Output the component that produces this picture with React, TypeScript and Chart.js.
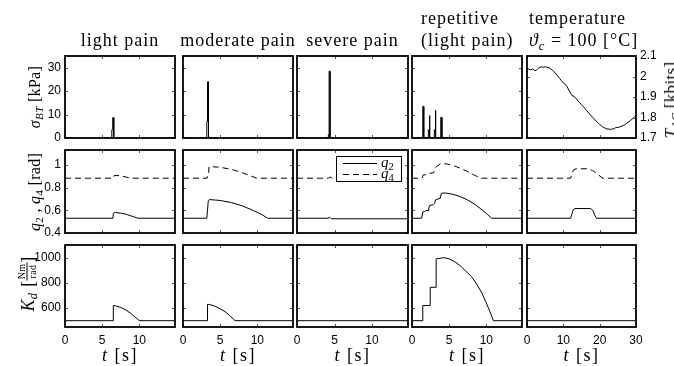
import React, { useEffect, useRef } from 'react';
import { Chart, registerables } from 'chart.js';

Chart.register(...registerables);

// ---------- tick / axis ranges ----------
const X_SHORT_MAX = 14.8;
const X_LONG_MAX = 30;
const SIGMA_RANGE = [0, 35, 10];
const TAC_RANGE = [1.7, 2.1, 0.1];
const Q_RANGE = [0.4, 1.13, 0.2];
const KD_RANGE = [450, 1100, 200];

// ---------- row 1: sigma_BT [kPa] ----------
const lightSigmaT = [0, 6.3, 6.3, 6.42, 6.42, 6.56, 6.56, 14.8];
const lightSigma = [0, 0, 3.5, 3.5, 8.7, 8.7, 0, 0];
const moderateSigmaT = [0, 3.2, 3.2, 3.3, 3.3, 3.43, 3.43, 14.8];
const moderateSigma = [0, 0, 7, 7, 24, 24, 0, 0];
const severeSigmaT = [0, 4.18, 4.18, 4.28, 4.28, 4.4, 4.4, 14.8];
const severeSigma = [0, 0, 1.5, 1.5, 28.5, 28.5, 0, 0];
const repSigmaT = [0, 1.45, 1.45, 1.58, 1.58, 2.2, 2.2, 2.3, 2.3, 2.42, 2.42, 3.0, 3.0, 3.1, 3.1, 3.22, 3.22, 3.8, 3.8, 3.9, 3.9, 4.02, 4.02, 14.8];
const repSigma = [0, 0, 13.5, 13.5, 0, 0, 3.5, 3.5, 9.6, 9.6, 0, 0, 3.5, 3.5, 11.8, 11.8, 0, 0, 3, 3, 8.8, 8.8, 0, 0];

// ---------- row 1 (right): T_AC [kbits] ----------
const tempT = [0, 0.5, 1, 1.5, 2, 2.5, 3, 3.5, 4, 4.5, 5, 5.5, 6, 6.5, 7, 7.5, 8, 8.5, 9, 9.5, 10, 10.5, 11, 11.5, 12, 12.5, 13, 13.5, 14, 14.5, 15, 15.5, 16, 16.5, 17, 17.5, 18, 18.5, 19, 19.5, 20, 20.5, 21, 21.5, 22, 22.5, 23, 23.5, 24, 24.5, 25, 25.5, 26, 26.5, 27, 27.5, 28, 28.5, 29, 29.5, 30];
const tempTac = [2.037, 2.036, 2.033, 2.037, 2.031, 2.029, 2.038, 2.045, 2.047, 2.045, 2.048, 2.045, 2.043, 2.038, 2.031, 2.022, 2.012, 2.001, 1.99, 1.979, 1.968, 1.962, 1.951, 1.934, 1.918, 1.906, 1.903, 1.893, 1.882, 1.873, 1.862, 1.853, 1.842, 1.833, 1.822, 1.812, 1.802, 1.793, 1.783, 1.775, 1.766, 1.759, 1.752, 1.748, 1.744, 1.744, 1.741, 1.745, 1.744, 1.752, 1.751, 1.754, 1.758, 1.761, 1.766, 1.773, 1.779, 1.786, 1.793, 1.801, 1.81];

// ---------- row 2: q2 (solid), q4 (dashed) [rad] ----------
const lightQ2T = [0, 6.45, 6.5, 6.6, 6.8, 7.5, 8.3, 9.0, 9.8, 14.8];
const lightQ2 = [0.53, 0.53, 0.565, 0.578, 0.58, 0.575, 0.563, 0.548, 0.53, 0.53];
const lightQ4T = [0, 6.5, 6.6, 7.4, 8.2, 8.9, 14.8];
const lightQ4 = [0.882, 0.882, 0.905, 0.905, 0.892, 0.882, 0.882];
const moderateQ2T = [0, 3.2, 3.3, 3.4, 3.6, 5, 6.5, 8, 9.5, 10.5, 11.4, 14.8];
const moderateQ2 = [0.53, 0.53, 0.6, 0.685, 0.694, 0.686, 0.668, 0.638, 0.597, 0.566, 0.53, 0.53];
const moderateQ4T = [0, 3.25, 3.3, 3.45, 3.5, 5, 6.5, 8, 9.2, 9.9, 14.8];
const moderateQ4 = [0.882, 0.882, 0.91, 0.92, 0.985, 0.978, 0.96, 0.93, 0.9, 0.882, 0.882];
const severeQ2T = [0, 4.2, 4.3, 4.45, 4.6, 14.8];
const severeQ2 = [0.53, 0.53, 0.54, 0.532, 0.525, 0.525];
const severeQ4T = [0, 4.2, 4.3, 4.5, 4.7, 14.8];
const severeQ4 = [0.882, 0.882, 0.89, 0.89, 0.882, 0.882];
const repQ2T = [0, 1.3, 1.45, 1.7, 2.0, 2.2, 2.35, 2.6, 2.9, 3.05, 3.15, 3.5, 3.8, 3.95, 4.5, 5.5, 6.5, 7.5, 8.5, 9.5, 10.2, 10.7, 14.8];
const repQ2 = [0.53, 0.53, 0.585, 0.59, 0.6, 0.595, 0.64, 0.645, 0.65, 0.66, 0.69, 0.7, 0.705, 0.75, 0.752, 0.74, 0.72, 0.69, 0.65, 0.6, 0.56, 0.53, 0.53];
const repQ4T = [0, 1.35, 1.5, 2.2, 2.4, 2.9, 3.1, 3.4, 3.9, 4.6, 5.5, 6.5, 7.5, 8.5, 9.3, 14.8];
const repQ4 = [0.882, 0.882, 0.91, 0.915, 0.925, 0.93, 0.97, 0.99, 1.01, 1.008, 0.995, 0.97, 0.94, 0.905, 0.882, 0.882];
const tempQ2T = [0, 12, 12.3, 12.7, 13.2, 17.5, 18.1, 18.6, 19.1, 30];
const tempQ2 = [0.53, 0.53, 0.56, 0.605, 0.615, 0.615, 0.6, 0.56, 0.53, 0.53];
const tempQ4T = [0, 12, 12.3, 12.8, 13.5, 16.8, 18, 19.5, 20.8, 30];
const tempQ4 = [0.882, 0.882, 0.91, 0.955, 0.965, 0.965, 0.95, 0.915, 0.882, 0.882];

// ---------- row 3: K_d [Nm/rad] ----------
const lightKdT = [0, 6.5, 6.5, 6.8, 7.5, 8.2, 8.8, 9.4, 10, 14.8];
const lightKd = [500, 500, 620, 618, 605, 585, 560, 530, 500, 500];
const moderateKdT = [0, 3.3, 3.3, 3.6, 4.3, 5, 5.7, 6.3, 7, 14.8];
const moderateKd = [500, 500, 630, 628, 615, 595, 570, 540, 500, 500];
const severeKdT = [0, 14.8];
const severeKd = [500, 500];
const repKdT = [0, 1.45, 1.45, 2.45, 2.45, 3.25, 3.25, 3.8, 4.3, 5, 5.8, 6.5, 7.2, 8, 8.7, 9.4, 10, 10.5, 10.95, 14.8];
const repKd = [500, 500, 620, 620, 765, 765, 990, 995, 1000, 990, 966, 935, 895, 850, 790, 720, 640, 570, 500, 500];
const tempKdT = [0, 30];
const tempKd = [500, 500];

// ---------- layout ----------
const COL_LEFT = [65, 183, 297, 412, 527];
const COL_W = [110, 110, 111, 110, 109];
const ROW_TOP = [56, 150, 245];
const ROW_H = [82, 83, 82];
const M = 40;

type Series = { t: number[]; v: number[]; dash?: boolean };
type Panel = {
  col: number; row: number; series: Series[];
  xmax: number; xstep: number; yr: number[];
  showX: boolean; showY: boolean; right?: boolean;
};

const sx = (col: number) => (col === 4 ? [X_LONG_MAX, 10] : [X_SHORT_MAX, 5]);

const row0: Series[][] = [
  [{ t: lightSigmaT, v: lightSigma }],
  [{ t: moderateSigmaT, v: moderateSigma }],
  [{ t: severeSigmaT, v: severeSigma }],
  [{ t: repSigmaT, v: repSigma }],
  [{ t: tempT, v: tempTac }],
];
const row1: Series[][] = [
  [{ t: lightQ2T, v: lightQ2 }, { t: lightQ4T, v: lightQ4, dash: true }],
  [{ t: moderateQ2T, v: moderateQ2 }, { t: moderateQ4T, v: moderateQ4, dash: true }],
  [{ t: severeQ2T, v: severeQ2 }, { t: severeQ4T, v: severeQ4, dash: true }],
  [{ t: repQ2T, v: repQ2 }, { t: repQ4T, v: repQ4, dash: true }],
  [{ t: tempQ2T, v: tempQ2 }, { t: tempQ4T, v: tempQ4, dash: true }],
];
const row2: Series[][] = [
  [{ t: lightKdT, v: lightKd }],
  [{ t: moderateKdT, v: moderateKd }],
  [{ t: severeKdT, v: severeKd }],
  [{ t: repKdT, v: repKd }],
  [{ t: tempKdT, v: tempKd }],
];

const PANELS: Panel[] = [];
[row0, row1, row2].forEach((rowSeries, row) => {
  rowSeries.forEach((series, col) => {
    const [xmax, xstep] = sx(col);
    const isTemp = row === 0 && col === 4;
    PANELS.push({
      col, row, series, xmax, xstep,
      yr: row === 0 ? (isTemp ? TAC_RANGE : SIGMA_RANGE) : row === 1 ? Q_RANGE : KD_RANGE,
      showX: row === 2,
      showY: col === 0 || isTemp,
      right: isTemp,
    });
  });
});

const TICK_FONT = { family: "'Liberation Sans', Arial, Helvetica, sans-serif", size: 12 };
const SERIF = "'Liberation Serif', 'Times New Roman', serif";

const fmt = (v: any) => String(parseFloat(Number(v).toFixed(3)));

const framePlugin = {
  id: 'frameTicks',
  afterDatasetsDraw(chart: any) {
    const { ctx, chartArea: a, scales } = chart;
    const xs = scales.x;
    const ys = scales.y;
    const tl = 3;
    ctx.save();
    ctx.strokeStyle = '#555';
    ctx.lineWidth = 1;
    ctx.beginPath();
    xs.ticks.forEach((tk: any) => {
      const px = Math.round(xs.getPixelForValue(tk.value)) + 0.5;
      ctx.moveTo(px, a.bottom);
      ctx.lineTo(px, a.bottom - tl);
      ctx.moveTo(px, a.top);
      ctx.lineTo(px, a.top + tl);
    });
    ys.ticks.forEach((tk: any) => {
      const py = Math.round(ys.getPixelForValue(tk.value)) + 0.5;
      ctx.moveTo(a.left, py);
      ctx.lineTo(a.left + tl, py);
      ctx.moveTo(a.right, py);
      ctx.lineTo(a.right - tl, py);
    });
    ctx.stroke();
    ctx.strokeStyle = '#000';
    ctx.lineWidth = 1.8;
    ctx.strokeRect(a.left, a.top, a.right - a.left, a.bottom - a.top);
    ctx.restore();
  },
};

function makeConfig(p: Panel): any {
  return {
    type: 'line',
    data: {
      datasets: p.series.map((s) => ({
        data: s.t.map((t, i) => ({ x: t, y: s.v[i] })),
        borderColor: '#000',
        borderWidth: 1,
        borderDash: s.dash ? [6, 4] : [],
        pointRadius: 0,
        pointHitRadius: 0,
        tension: 0,
        fill: false,
      })),
    },
    options: {
      animation: false,
      responsive: false,
      devicePixelRatio: 1,
      events: [],
      layout: { padding: { top: M, right: p.right ? 0 : M, left: p.right ? M : 0, bottom: 0 } },
      plugins: { legend: { display: false }, tooltip: { enabled: false }, title: { display: false } },
      scales: {
        x: {
          type: 'linear', min: 0, max: p.xmax, position: 'bottom',
          grid: { display: false, drawTicks: false },
          border: { display: false },
          ticks: {
            display: p.showX, stepSize: p.xstep, includeBounds: false, padding: 6,
            font: TICK_FONT, color: '#000', maxRotation: 0, autoSkip: false, callback: fmt,
          },
          afterFit: (s: any) => { s.height = M; },
        },
        y: {
          type: 'linear', min: p.yr[0], max: p.yr[1], position: p.right ? 'right' : 'left',
          grid: { display: false, drawTicks: false },
          border: { display: false },
          ticks: {
            display: p.showY, stepSize: p.yr[2], includeBounds: false, padding: 4,
            font: TICK_FONT, color: '#000', autoSkip: false, callback: fmt,
          },
          afterFit: (s: any) => { s.width = M; },
        },
      },
    },
    plugins: [framePlugin],
  };
}

function PanelChart({ p }: { p: Panel }) {
  const ref = useRef<HTMLCanvasElement>(null);
  useEffect(() => {
    const chart = new Chart(ref.current as HTMLCanvasElement, makeConfig(p));
    return () => chart.destroy();
  }, [p]);
  const w = COL_W[p.col] + 2 * M;
  const h = ROW_H[p.row] + 2 * M;
  return (
    <canvas
      ref={ref}
      width={w}
      height={h}
      style={{ position: 'absolute', left: COL_LEFT[p.col] - M, top: ROW_TOP[p.row] - M, width: w, height: h }}
    />
  );
}

const subStyle: React.CSSProperties = { fontSize: '0.7em', verticalAlign: '-0.3em', lineHeight: 0 };

function Rot({ x, y, children, size = 16 }: { x: number; y: number; children: React.ReactNode; size?: number }) {
  return (
    <div
      style={{
        position: 'absolute', left: x, top: y, transform: 'translate(-50%, -50%) rotate(-90deg)',
        whiteSpace: 'nowrap', fontFamily: SERIF, fontSize: size, lineHeight: '20px', color: '#000',
        letterSpacing: '0.3px',
      }}
    >
      {children}
    </div>
  );
}

const titleStyle: React.CSSProperties = {
  position: 'absolute', fontFamily: SERIF, fontSize: 18, lineHeight: '22px', color: '#000',
  whiteSpace: 'nowrap', letterSpacing: '1px',
};

export default function App() {
  const colCenter = (c: number) => COL_LEFT[c] + COL_W[c] / 2;
  return (
    <div style={{ position: 'absolute', left: 0, top: 0, width: 674, height: 366, background: '#fff', overflow: 'hidden' }}>
      {PANELS.map((p, i) => (
        <PanelChart key={i} p={p} />
      ))}

      {/* titles */}
      <div style={{ ...titleStyle, left: colCenter(0), top: 29, transform: 'translateX(-50%)' }}>light pain</div>
      <div style={{ ...titleStyle, left: colCenter(1), top: 29, transform: 'translateX(-50%)' }}>moderate pain</div>
      <div style={{ ...titleStyle, left: colCenter(2), top: 29, transform: 'translateX(-50%)' }}>severe pain</div>
      <div style={{ ...titleStyle, left: 421, top: 7 }}>
        repetitive
        <br />
        (light pain)
      </div>
      <div style={{ ...titleStyle, left: 529, top: 7 }}>
        temperature
        <br />
        <i>ϑ</i>
        <sub style={subStyle}><i>c</i></sub> = 100 [°C]
      </div>

      {/* y labels */}
      <Rot x={35} y={97}>
        <i>σ</i>
        <sub style={subStyle}><i>BT</i></sub> [kPa]
      </Rot>
      <Rot x={35} y={192}>
        <i>q</i>
        <sub style={subStyle}>2</sub> , <i>q</i>
        <sub style={subStyle}>4</sub> [rad]
      </Rot>
      <Rot x={27} y={284} size={18}>
        <span style={{ display: 'inline-flex', alignItems: 'center' }}>
          <span>
            <i>K</i>
            <sub style={subStyle}><i>d</i></sub>
          </span>
          <span style={{ marginLeft: 6 }}>[</span>
          <span style={{ display: 'inline-flex', flexDirection: 'column', alignItems: 'center', fontSize: 10, lineHeight: '10px' }}>
            <span style={{ borderBottom: '1px solid #000', padding: '0 1px' }}>Nm</span>
            <span>rad</span>
          </span>
          <span>]</span>
        </span>
      </Rot>
      <Rot x={671} y={100} size={17}>
        <i>T</i>
        <sub style={subStyle}><i>AC</i></sub> [kbits]
      </Rot>

      {/* x labels */}
      {[0, 1, 2, 3, 4].map((c) => (
        <div key={c} style={{ ...titleStyle, left: colCenter(c), top: 344, transform: 'translateX(-50%)', letterSpacing: '1.5px' }}>
          <i>t</i> [s]
        </div>
      ))}

      {/* legend */}
      <div style={{ position: 'absolute', left: 336, top: 156, width: 64, height: 24, border: '1px solid #000', background: '#fff' }}>
        <svg width={36} height={24} style={{ position: 'absolute', left: 6, top: 0 }}>
          <line x1={0} y1={6.5} x2={34} y2={6.5} stroke="#000" strokeWidth={1} />
          <line x1={0} y1={17.5} x2={34} y2={17.5} stroke="#000" strokeWidth={1} strokeDasharray="6,4" />
        </svg>
        <div style={{ position: 'absolute', left: 44, top: -1, fontFamily: SERIF, fontSize: 15, lineHeight: '13px' }}>
          <i>q</i>
          <sub style={subStyle}>2</sub>
        </div>
        <div style={{ position: 'absolute', left: 44, top: 10, fontFamily: SERIF, fontSize: 15, lineHeight: '13px' }}>
          <i>q</i>
          <sub style={subStyle}>4</sub>
        </div>
      </div>
    </div>
  );
}
